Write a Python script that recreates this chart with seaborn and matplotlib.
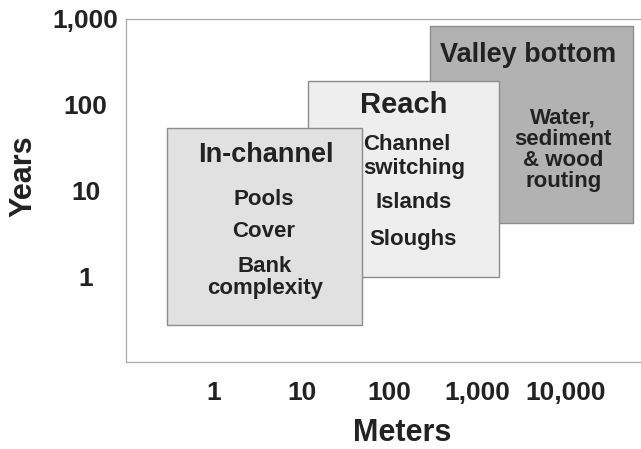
import numpy as np
import pandas as pd
import matplotlib
matplotlib.use("Agg")
import matplotlib.pyplot as plt
from matplotlib.patches import Rectangle
from matplotlib.ticker import FixedLocator, NullLocator
import seaborn as sns

# spatial / temporal extent of each scale (meters, years)
scales = ["Valley bottom", "Reach", "In-channel"]
x_lo = [292, 11.7, 0.29]
x_hi = [59000, 1780, 48]
y_lo = [4.2, 0.98, 0.27]
y_hi = [830, 189, 54]
fills = ["#b2b2b2", "#eeeeee", "#e1e1e1"]

# title anchor for each box
title_x = [3800, 145, 3.9]
title_y = [380, 100, 26]
title_fs = [19.5, 21, 19.5]

# features listed in each box
feat_text = ["Water,\nsediment\n& wood\nrouting",
             "Channel\nswitching", "Islands", "Sloughs",
             "Pools", "Cover", "Bank\ncomplexity"]
feat_x = [9500, 192, 187, 187, 3.7, 3.7, 3.8]
feat_y = [30, 25, 7.2, 2.65, 7.8, 3.3, 0.97]
feat_ls = [1.0, 1.2, 1.2, 1.2, 1.2, 1.2, 1.1]
feat_align = ["center", "left", "center", "center", "center", "center", "center"]

x_ticks = [1, 10, 100, 1000, 10000]
x_labels = ["1", "10", "100", "1,000", "10,000"]
y_ticks = [1, 10, 100, 1000]
y_labels = ["1", "10", "100", "1,000"]

boxes = pd.DataFrame({"scale": scales, "x_lo": x_lo, "x_hi": x_hi,
                      "y_lo": y_lo, "y_hi": y_hi, "fill": fills})

sns.set_style("white")
plt.rcParams["font.family"] = ["Liberation Sans", "DejaVu Sans"]
plt.rcParams["font.weight"] = "bold"

fig = plt.figure(figsize=(6.41, 4.49), dpi=100)
ax = fig.add_axes([126 / 641, 1 - 362 / 449, 515 / 641, 343 / 449])
ax.set_xscale("log")
ax.set_yscale("log")
ax.set_xlim(0.1, 73000)
ax.set_ylim(0.1, 1000)

ink = "#222222"
for i, row in boxes.iterrows():
    ax.add_patch(Rectangle((row.x_lo, row.y_lo), row.x_hi - row.x_lo,
                           row.y_hi - row.y_lo, facecolor=row.fill,
                           edgecolor="#8c8c8c", linewidth=1.0, zorder=2 + i))
    ax.text(title_x[i], title_y[i], row.scale, ha="center", va="center",
            fontsize=title_fs[i], fontweight="bold", color=ink, zorder=10)

for t, x, y, ls, al in zip(feat_text, feat_x, feat_y, feat_ls, feat_align):
    ax.text(x, y, t, ha="center", va="center", fontsize=16,
            fontweight="bold", color=ink, linespacing=ls,
            multialignment=al, zorder=10)

ax.xaxis.set_major_locator(FixedLocator(x_ticks))
ax.yaxis.set_major_locator(FixedLocator(y_ticks))
ax.xaxis.set_minor_locator(NullLocator())
ax.yaxis.set_minor_locator(NullLocator())
ax.set_xticklabels(x_labels, fontsize=19, fontweight="bold", color=ink)
ax.set_yticklabels(y_labels, fontsize=19, fontweight="bold", color=ink)
for lab in ax.get_yticklabels():
    lab.set_ha("center")
ax.tick_params(axis="x", direction="in", length=8, width=0.9,
               color="#999999", pad=14)
ax.tick_params(axis="y", direction="in", length=11, width=0.9,
               color="#999999", pad=29)

for side in ["left", "bottom", "top"]:
    ax.spines[side].set_color("#aaaaaa")
    ax.spines[side].set_linewidth(0.9)
ax.spines["right"].set_visible(False)

ax.set_xlabel("Meters", fontsize=22, fontweight="bold", color=ink)
ax.set_ylabel("Years", fontsize=22, fontweight="bold", color=ink)
ax.xaxis.set_label_coords((402 - 126) / 515, -(433 - 362) / 343)
ax.yaxis.set_label_coords(-(126 - 23) / 515, (362 - 176) / 343)
ax.xaxis.label.set_va("center")
ax.yaxis.label.set_va("center")

fig.savefig("out.png", dpi=100, facecolor="white")
